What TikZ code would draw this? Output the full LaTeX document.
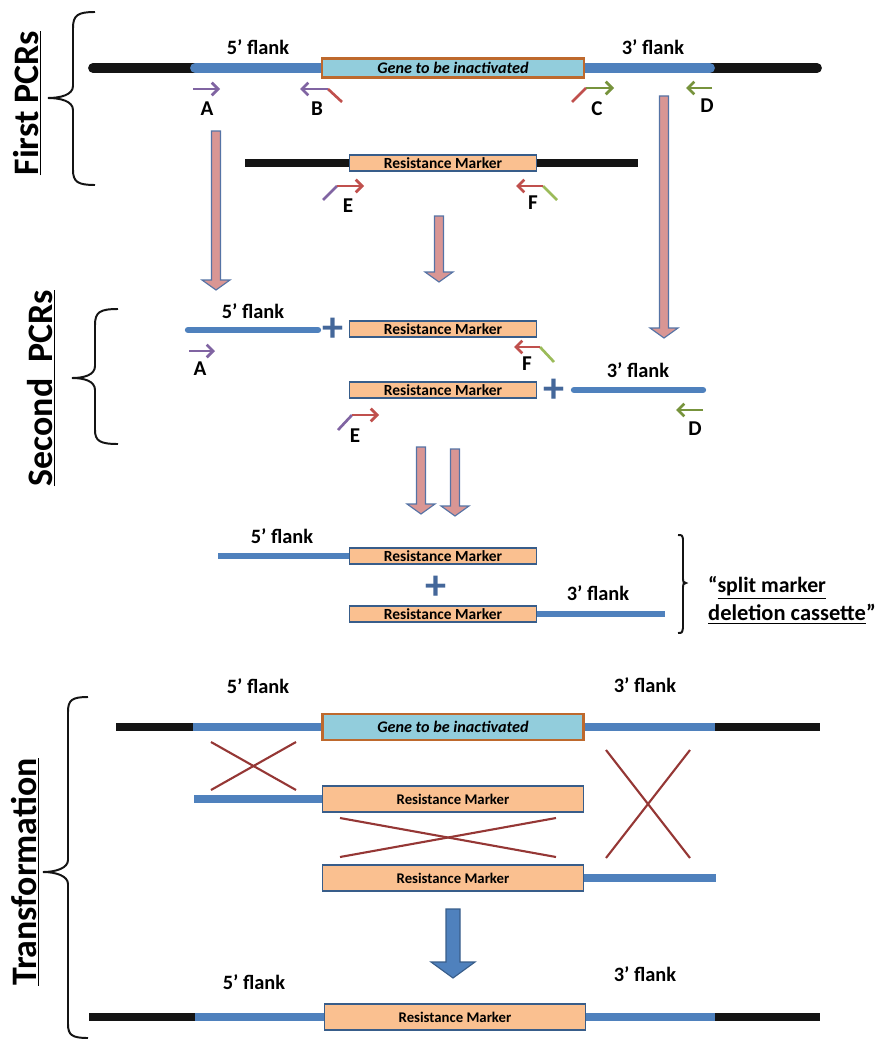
\documentclass[tikz,border=0pt]{standalone}
\usepackage{fontspec}
\setmainfont{Carlito}
\usetikzlibrary{arrows.meta}

\definecolor{dnablack}{RGB}{20,20,20}
\definecolor{flankblue}{RGB}{79,129,189}
\definecolor{boxedge}{RGB}{56,93,138}
\definecolor{markerfill}{RGB}{250,192,144}
\definecolor{genefill}{RGB}{146,205,220}
\definecolor{geneedge}{RGB}{190,105,45}
\definecolor{pcrpink}{RGB}{217,150,148}
\definecolor{pcredge}{RGB}{85,115,165}
\definecolor{ppurple}{RGB}{128,100,162}
\definecolor{pred}{RGB}{192,80,77}
\definecolor{pgreen}{RGB}{119,147,60}
\definecolor{plgreen}{RGB}{155,187,89}
\definecolor{crossred}{RGB}{149,55,53}
\definecolor{plusblue}{RGB}{68,103,154}

% fat downward arrow: [style]{x}{top}{tip}
\newcommand{\pcrarrow}[4][pcr]{%
  \draw[#1] ({#2-4.5},#3) -- ({#2+4.5},#3) -- ({#2+4.5},{#4-10}) -- ({#2+14},{#4-10})
    -- (#2,#4) -- ({#2-14},{#4-10}) -- ({#2-4.5},{#4-10}) -- cycle;}

\begin{document}
\begin{tikzpicture}[x=0.025cm, y=-0.025cm]
	\tikzset{
		chrom/.style={line width=7pt, draw=dnablack, line cap=round},
		flank/.style={line width=7pt, draw=flankblue},
		marker/.style={draw=boxedge, fill=markerfill, line width=1.3pt, inner sep=0pt, minimum width=4.675cm, minimum height=0.42cm, font=\fontsize{11}{11}\selectfont\bfseries},
		bigmarker/.style={marker, minimum width=6.525cm, minimum height=0.65cm, font=\fontsize{10.5}{10.5}\selectfont\bfseries},
		gene/.style={draw=geneedge, fill=genefill, line width=1.5pt, inner sep=0pt, minimum width=6.55cm, minimum height=0.475cm, font=\fontsize{11.5}{11.5}\selectfont\bfseries\itshape},
		flanklbl/.style={font=\fontsize{14.5}{14.5}\selectfont\bfseries, inner sep=0pt},
		primlbl/.style={font=\fontsize{15}{15}\selectfont\bfseries, inner sep=0pt},
		primer/.style={line width=1.9pt, -{Straight Barb[length=4.5pt,width=9pt]}},
		ptail/.style={line width=1.9pt},
		steplbl/.style={rotate=90, font=\fontsize{25.5}{25.5}\selectfont\bfseries, inner sep=0pt},
		brc/.style={line width=1.4pt, draw=dnablack},
		xover/.style={line width=1.5pt, draw=crossred},
		plus/.style={text=plusblue, font=\fontsize{30}{30}\selectfont\bfseries, inner sep=0pt},
		pcr/.style={fill=pcrpink, draw=pcredge, line width=0.8pt},
		bigarrow/.style={fill=flankblue, draw=boxedge, line width=0.8pt}
	}
	\useasboundingbox (0,0) rectangle (880,1045);

	% --- first PCRs ---
	\node[steplbl] (s1) at (27,103) {\underline{First PCRs}};
	\draw[brc] (95,12) .. controls (78,12) and (73,15) .. (73,28) -- (73,86) .. controls (73,95) and (60,98) .. (48,98)
		.. controls (60,98) and (73,101) .. (73,110) -- (73,170) .. controls (73,182) and (78,185) .. (95,185);

	\node[gene] (g1) at (453,68) {Gene to be inactivated};
	\draw[chrom] (93,68) -- (250,68);
	\draw[chrom] (650,68) -- (817,68);
	\draw[flank] (195,68) -- (g1.west);
	\draw[flank] (g1.east) -- (710,68);
	\fill[flankblue] (195,68) circle (3.5pt) (710,68) circle (3.5pt);
	\node[flanklbl] (f5a) at (258,47) {5’ flank};
	\node[flanklbl] (f3a) at (653,47) {3’ flank};

	\draw[primer, ppurple] (193,89) -- (220,89);
	\node[primlbl] (pa1) at (207,109) {A};
	\draw[ptail, pred] (342,102) -- (328,89);
	\draw[primer, ppurple] (328,89) -- (300,89);
	\node[primlbl] (pb1) at (317,109) {B};
	\draw[ptail, pred] (572,102) -- (586,88);
	\draw[primer, pgreen] (586,88) -- (614,88);
	\node[primlbl] (pc1) at (597,109) {C};
	\draw[primer, pgreen] (712,88) -- (686,88);
	\node[primlbl] (pd1) at (707,106) {D};

	\node[marker] (rm1) at (443,163) {Resistance Marker};
	\draw[chrom, line width=5.5pt, line cap=butt] (245,163) -- (rm1.west);
	\draw[chrom, line width=5.5pt, line cap=butt] (rm1.east) -- (638,163);
	\draw[ptail, ppurple] (323,200) -- (337,186);
	\draw[primer, pred] (337,186) -- (364,186);
	\node[primlbl] (pe1) at (348,206) {E};
	\draw[ptail, plgreen] (557,200) -- (543,186);
	\draw[primer, pred] (543,186) -- (516,186);
	\node[primlbl] (pf1) at (533,203) {F};

	\pcrarrow{216}{131}{290}
	\pcrarrow{439}{216}{282}
	\pcrarrow{664}{96}{338}

	% --- second PCRs ---
	\node[steplbl] (s2) at (41,388) {\underline{Second\ \ PCRs}};
	\draw[brc] (118,309) .. controls (100,309) and (95,312) .. (95,325) -- (95,366) .. controls (95,375) and (84,378) .. (72,378)
		.. controls (84,378) and (95,381) .. (95,390) -- (95,430) .. controls (95,441) and (100,444) .. (118,444);

	\draw[flank, line width=4.5pt, line cap=round] (188,330) -- (318,330);
	\node[flanklbl] (f5b) at (253,311) {5’ flank};
	\node[plus] (pl1) at (333,330) {+};
	\node[marker] (rm2) at (443,329) {Resistance Marker};
	\draw[primer, ppurple] (189,351) -- (215,351);
	\node[primlbl] (pa2) at (200,369) {A};
	\draw[ptail, plgreen] (554,362) -- (540,347);
	\draw[primer, pred] (540,347) -- (514,347);
	\node[primlbl] (pf2) at (527,364) {F};

	\node[marker] (rm3) at (443,390) {Resistance Marker};
	\node[plus] (pl2) at (554,391) {+};
	\draw[flank, line width=4.5pt, line cap=round] (574,390) -- (703,390);
	\node[flanklbl] (f3b) at (638,370) {3’ flank};
	\draw[ptail, ppurple] (338,430) -- (352,415);
	\draw[primer, pred] (352,415) -- (379,415);
	\node[primlbl] (pe2) at (355,436) {E};
	\draw[primer, pgreen] (703,410) -- (676,410);
	\node[primlbl] (pd2) at (695,429) {D};

	\pcrarrow{421}{447}{514}
	\pcrarrow{455}{449}{516}

	% --- split marker cassette ---
	\node[marker] (rm4) at (443,556) {Resistance Marker};
	\draw[flank, line width=4.5pt] (218,556) -- (rm4.west);
	\node[flanklbl] (f5c) at (282,536) {5’ flank};
	\node[plus] (pl3) at (436,588) {+};
	\node[marker] (rm5) at (443,614) {Resistance Marker};
	\draw[flank, line width=4.5pt] (rm5.east) -- (665,614);
	\node[flanklbl] (f3c) at (598,593) {3’ flank};
	\draw[brc] (678,535) .. controls (682,535) .. (683,539) -- (683,579) .. controls (683,582) .. (686,583)
		.. controls (683,584) .. (683,587) -- (683,628) .. controls (682,633) .. (678,633);
	\node[flanklbl, font=\fontsize{15.5}{15.5}\selectfont\bfseries] (cas1) at (767,588) {“\underline{split marker}};
	\node[flanklbl, font=\fontsize{16}{16}\selectfont\bfseries] (cas2) at (792,614) {\underline{deletion cassette}”};

	% --- transformation ---
	\node[steplbl] (s3) at (25,872) {\underline{Transformation}};
	\draw[brc] (88,697) .. controls (72,697) and (68,700) .. (68,712) -- (68,860) .. controls (68,868) and (56,872) .. (43,872)
		.. controls (56,872) and (68,876) .. (68,884) -- (68,1024) .. controls (68,1035) and (72,1038) .. (88,1038);

	\node[flanklbl] (f5d) at (258,686) {5’ flank};
	\node[flanklbl] (f3d) at (645,685) {3’ flank};
	\node[gene, minimum width=6.525cm, minimum height=0.65cm] (g2) at (453,727) {Gene to be inactivated};
	\draw[chrom, line width=5.5pt, line cap=butt] (116,727) -- (193,727);
	\draw[chrom, line width=5.5pt, line cap=butt] (715,727) -- (820,727);
	\draw[flank, line width=5pt] (193,727) -- (g2.west);
	\draw[flank, line width=5pt] (g2.east) -- (715,727);

	\node[bigmarker] (rm6) at (453,799) {Resistance Marker};
	\draw[flank, line width=5pt] (194,799) -- (rm6.west);
	\node[bigmarker] (rm7) at (453,878) {Resistance Marker};
	\draw[flank, line width=5pt] (rm7.east) -- (716,878);

	\draw[xover] (211,742) -- (296,790);
	\draw[xover] (211,790) -- (296,742);
	\draw[xover] (340,818) -- (556,857);
	\draw[xover] (340,857) -- (556,818);
	\draw[xover] (606,750) -- (690,858);
	\draw[xover] (690,750) -- (606,858);

	\draw[bigarrow] (446,909) -- (460,909) -- (460,962) -- (475,962) -- (453,978) -- (431,962) -- (446,962) -- cycle;

	\node[flanklbl] (f5e) at (254,982) {5’ flank};
	\node[flanklbl] (f3e) at (645,974) {3’ flank};
	\node[bigmarker] (rm8) at (455,1017) {Resistance Marker};
	\draw[chrom, line width=5.5pt, line cap=butt] (89,1017) -- (195,1017);
	\draw[chrom, line width=5.5pt, line cap=butt] (715,1017) -- (820,1017);
	\draw[flank, line width=5pt] (195,1017) -- (rm8.west);
	\draw[flank, line width=5pt] (rm8.east) -- (715,1017);
\end{tikzpicture}
\end{document}
